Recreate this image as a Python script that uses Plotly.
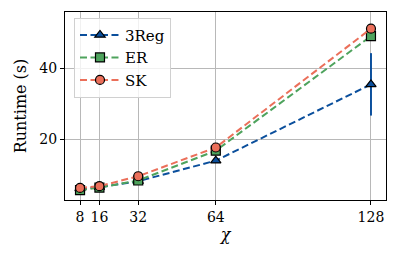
import plotly.graph_objects as go

chi = [8, 16, 32, 64, 128]
reg3 = [6.2, 6.5, 8.2, 14.0, 35.5]
reg3_err = [0, 0, 0, 0, 8.8]
er = [5.7, 6.4, 8.4, 16.8, 49.1]
sk = [6.3, 6.8, 9.6, 17.7, 51.2]
xticks = [8, 16, 32, 64, 128]
yticks = [20, 40]

BLUE = "#0B4F9C"
GREEN = "#4EA35D"
RED = "#EB6F5A"
FONT = "DejaVu Serif"

fig = go.Figure()
series = [
    ("3Reg", reg3, BLUE, "triangle-up", reg3_err),
    ("ER", er, GREEN, "square", None),
    ("SK", sk, RED, "circle", None),
]
for name, ys, col, sym, err in series:
    tr = dict(
        x=chi, y=ys, name=name, mode="lines+markers",
        line=dict(color=col, width=2, dash="7px,3.5px"),
        marker=dict(symbol=sym, size=9, color=col, line=dict(color="black", width=1.2)),
    )
    if err is not None:
        tr["error_y"] = dict(type="data", array=err, visible=True, color=col, thickness=2, width=0)
    fig.add_trace(go.Scatter(**tr))

# page body has an 8px default margin; compensate in figure size/margins
fig.update_layout(
    width=389, height=245,
    margin=dict(l=57, r=11, t=4, b=53),
    paper_bgcolor="white", plot_bgcolor="white",
    font=dict(family=FONT, size=15, color="black"),
    showlegend=True,
    legend=dict(
        x=0.028, y=0.97, xanchor="left", yanchor="top",
        bgcolor="rgba(255,255,255,0.8)", bordercolor="#d0d0d0", borderwidth=1,
        font=dict(family=FONT, size=15), tracegroupgap=0, itemwidth=40,
    ),
    xaxis=dict(
        range=[1.8, 134.2], tickvals=xticks, ticktext=[str(t) for t in xticks],
        showgrid=True, gridcolor="#b8b8b8", gridwidth=1,
        showline=True, linecolor="black", linewidth=1.2, mirror=True,
        ticks="outside", ticklen=4, tickcolor="black", zeroline=False,
        tickfont=dict(family=FONT, size=14),
        title=dict(text="<i>χ</i>", standoff=4, font=dict(family=FONT, size=16)),
    ),
    yaxis=dict(
        range=[2.9, 55.9], tickvals=yticks,
        showgrid=True, gridcolor="#b8b8b8", gridwidth=1,
        showline=True, linecolor="black", linewidth=1.2, mirror=True,
        ticks="outside", ticklen=4, tickcolor="black", zeroline=False,
        tickfont=dict(family=FONT, size=14),
        title=dict(text="Runtime (s)", standoff=8, font=dict(family=FONT, size=16)),
    ),
)

fig.write_html("out.html")
